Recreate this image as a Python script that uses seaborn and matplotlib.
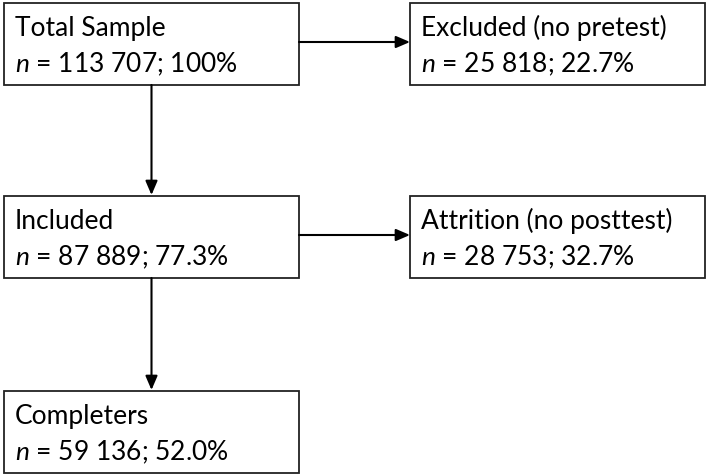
import matplotlib
matplotlib.use('agg')
import matplotlib.pyplot as plt
import seaborn as sns
from matplotlib.patches import Rectangle

# flowchart content
titles = ["Total Sample", "Excluded (no pretest)", "Included",
          "Attrition (no posttest)", "Completers"]
counts = ["113 707", "25 818", "87 889", "28 753", "59 136"]
percents = ["100%", "22.7%", "77.3%", "32.7%", "52.0%"]

# (column, row) of each box in the grid
grid_pos = [(0, 0), (1, 0), (0, 1), (1, 1), (0, 2)]
# arrows: from box index -> to box index
links = [(0, 1), (0, 2), (2, 3), (2, 4)]

sns.set_theme(style="white")
plt.rcParams['font.family'] = ['Lato', 'DejaVu Sans']
plt.rcParams['mathtext.fontset'] = 'custom'
plt.rcParams['mathtext.it'] = 'Lato:italic'
plt.rcParams['mathtext.rm'] = 'Lato'

fig = plt.figure(figsize=(7.09, 4.77), dpi=100)
ax = fig.add_axes([0, 0, 1, 1])
ax.set_xlim(0, 709)
ax.set_ylim(477, 0)
ax.axis('off')

COL_X = [4, 410]
BOX_W = 295
ROW_Y = [4, 197, 392]
BOX_H = 82
FS = 19

def box_rect(i):
    c, r = grid_pos[i]
    return COL_X[c], ROW_Y[r], BOX_W, BOX_H

for i, title in enumerate(titles):
    x, y, w, h = box_rect(i)
    ax.add_patch(Rectangle((x, y), w, h, fill=False, edgecolor='#222222', linewidth=1.3))
    ax.text(x + 11, y + 32, title, fontsize=FS, va='baseline', ha='left', color='black')
    ax.text(x + 11, y + 68, r"$n$ = " + f"{counts[i]}; {percents[i]}",
            fontsize=FS, va='baseline', ha='left', color='black')

arrow_style = dict(arrowstyle='-|>,head_length=0.7,head_width=0.3', color='black',
                   linewidth=1.5, shrinkA=0, shrinkB=0)
for a, b in links:
    xa, ya, wa, ha_ = box_rect(a)
    xb, yb, wb, hb = box_rect(b)
    if grid_pos[a][1] == grid_pos[b][1]:
        ymid = ya + ha_ / 2 - 2
        ax.annotate('', xy=(xb, ymid), xytext=(xa + wa, ymid), arrowprops=arrow_style)
    else:
        xmid = xa + wa / 2
        ax.annotate('', xy=(xmid, yb - 1), xytext=(xmid, ya + ha_), arrowprops=arrow_style)

sns.despine(left=True, bottom=True)
fig.savefig('out.png', dpi=100)
